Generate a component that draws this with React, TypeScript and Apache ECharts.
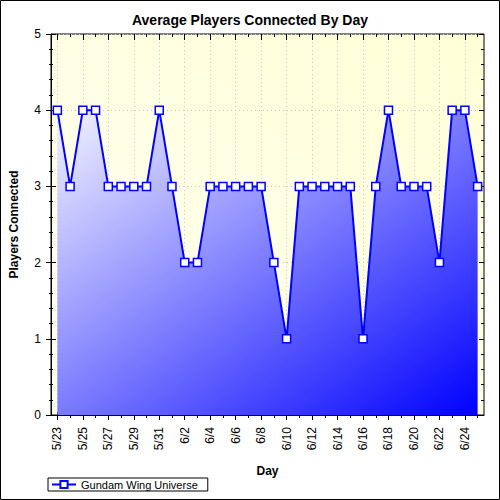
import React, { useEffect, useRef } from "react";
import * as echarts from "echarts";

// Days shown on the x axis (one category per day)
const days: string[] = [
  "5/23", "5/24", "5/25", "5/26", "5/27", "5/28", "5/29", "5/30", "5/31",
  "6/1", "6/2", "6/3", "6/4", "6/5", "6/6", "6/7", "6/8", "6/9", "6/10",
  "6/11", "6/12", "6/13", "6/14", "6/15", "6/16", "6/17", "6/18", "6/19",
  "6/20", "6/21", "6/22", "6/23", "6/24", "6/25",
];

// Average players connected per day
const players: number[] = [
  4, 3, 4, 4, 3, 3, 3, 3, 4, 3, 2, 2, 3, 3, 3, 3, 3, 2, 1,
  3, 3, 3, 3, 3, 1, 3, 4, 3, 3, 3, 2, 4, 4, 3,
];

const seriesName = "Gundam Wing Universe";
const titleText = "Average Players Connected By Day";
const xName = "Day";
const yName = "Players Connected";

const FONT = "'Liberation Sans', Arial, sans-serif";

export default function App() {
  const ref = useRef<HTMLDivElement>(null);

  useEffect(() => {
    document.body.style.margin = "0";
    if (!ref.current) return;
    const chart = echarts.init(ref.current, null, { renderer: "svg" });

    const black = "#000";
    const dotted = { show: true, lineStyle: { color: "#c8c8c8", type: [1, 3] as any, width: 1 } };

    const hiddenCat = (position: string, inside: boolean, interval: number, length: number) => ({
      type: "category",
      gridIndex: 0,
      position,
      data: days,
      boundaryGap: true,
      axisLine: { show: false },
      axisTick: { show: true, inside, interval, length, alignWithLabel: true, lineStyle: { color: black } },
      axisLabel: { show: false },
      splitLine: { show: false },
    });

    const hiddenVal = (position: string, inside: boolean, length: number, minorLength: number) => ({
      type: "value",
      gridIndex: 0,
      position,
      min: 0,
      max: 5,
      interval: 1,
      axisLine: { show: false },
      axisTick: { show: true, inside, length, lineStyle: { color: black } },
      minorTick: { show: true, splitNumber: 5, length: minorLength, lineStyle: { color: black } },
      axisLabel: { show: false },
      splitLine: { show: false },
    });

    chart.setOption({
      animation: false,
      backgroundColor: "#fff",
      textStyle: { fontFamily: FONT },
      title: {
        text: titleText,
        left: "center",
        top: 8,
        textStyle: { fontFamily: FONT, fontSize: 14, fontWeight: "bold", color: black },
      },
      grid: {
        left: 48,
        right: 16,
        top: 34,
        bottom: 85,
        show: true,
        borderColor: black,
        borderWidth: 1,
        backgroundColor: new echarts.graphic.LinearGradient(1, 0, 0, 1, [
          { offset: 0, color: "#ffffd6" },
          { offset: 1, color: "#fffff2" },
        ]),
      },
      legend: {
        left: 48,
        top: 478,
        orient: "horizontal",
        borderColor: black,
        borderWidth: 1,
        padding: [1, 10, 1, 3],
        itemWidth: 24,
        itemHeight: 9,
        itemGap: 6,
        textStyle: { fontFamily: FONT, fontSize: 11, color: black },
        data: [seriesName],
      },
      xAxis: [
        {
          type: "category",
          gridIndex: 0,
          position: "bottom",
          data: days,
          boundaryGap: true,
          name: xName,
          nameLocation: "middle",
          nameGap: 50,
          nameTextStyle: { fontFamily: FONT, fontSize: 12, fontWeight: "bold", color: black },
          axisLine: { show: true, lineStyle: { color: black, width: 1 } },
          axisTick: { show: true, interval: 1, length: 5, alignWithLabel: true, lineStyle: { color: black } },
          axisLabel: { interval: 1, rotate: 90, margin: 12, fontSize: 12, fontFamily: FONT, color: black },
          splitLine: { ...dotted, interval: 1, alignWithLabel: true },
        },
        hiddenCat("bottom", false, 0, 3),
        hiddenCat("bottom", true, 1, 3),
        hiddenCat("top", true, 0, 3),
        hiddenCat("top", true, 1, 6),
      ],
      yAxis: [
        {
          type: "value",
          gridIndex: 0,
          position: "left",
          min: 0,
          max: 5,
          interval: 1,
          name: yName,
          nameLocation: "middle",
          nameGap: 31,
          nameTextStyle: { fontFamily: FONT, fontSize: 12, fontWeight: "bold", color: black },
          axisLine: { show: true, lineStyle: { color: black, width: 1 } },
          axisTick: { show: true, length: 5, lineStyle: { color: black } },
          minorTick: { show: true, splitNumber: 5, length: 2, lineStyle: { color: black } },
          axisLabel: { margin: 10, fontSize: 12, fontFamily: FONT, color: black },
          splitLine: dotted,
        },
        hiddenVal("left", true, 5, 2),
        hiddenVal("right", true, 5, 3),
      ],
      series: [
        {
          name: seriesName,
          type: "line",
          xAxisIndex: 0,
          yAxisIndex: 0,
          data: players,
          symbol: "rect",
          symbolSize: 8,
          showAllSymbol: true,
          itemStyle: { color: "#fff", borderColor: "#0000ff", borderWidth: 1.5 },
          lineStyle: { color: "#0000ff", width: 2 },
          areaStyle: {
            opacity: 1,
            color: new echarts.graphic.LinearGradient(0, 0, 1, 1, [
              { offset: 0, color: "#f4f4ff" },
              { offset: 1, color: "#0000ff" },
            ]),
          },
          z: 3,
        },
      ],
      graphic: [
        {
          type: "rect",
          shape: { x: 0.5, y: 0.5, width: 499, height: 499 },
          style: { fill: "none", stroke: black, lineWidth: 1 },
          silent: true,
        },
      ],
    });

    return () => chart.dispose();
  }, []);

  return <div ref={ref} style={{ width: 500, height: 500 }} />;
}
